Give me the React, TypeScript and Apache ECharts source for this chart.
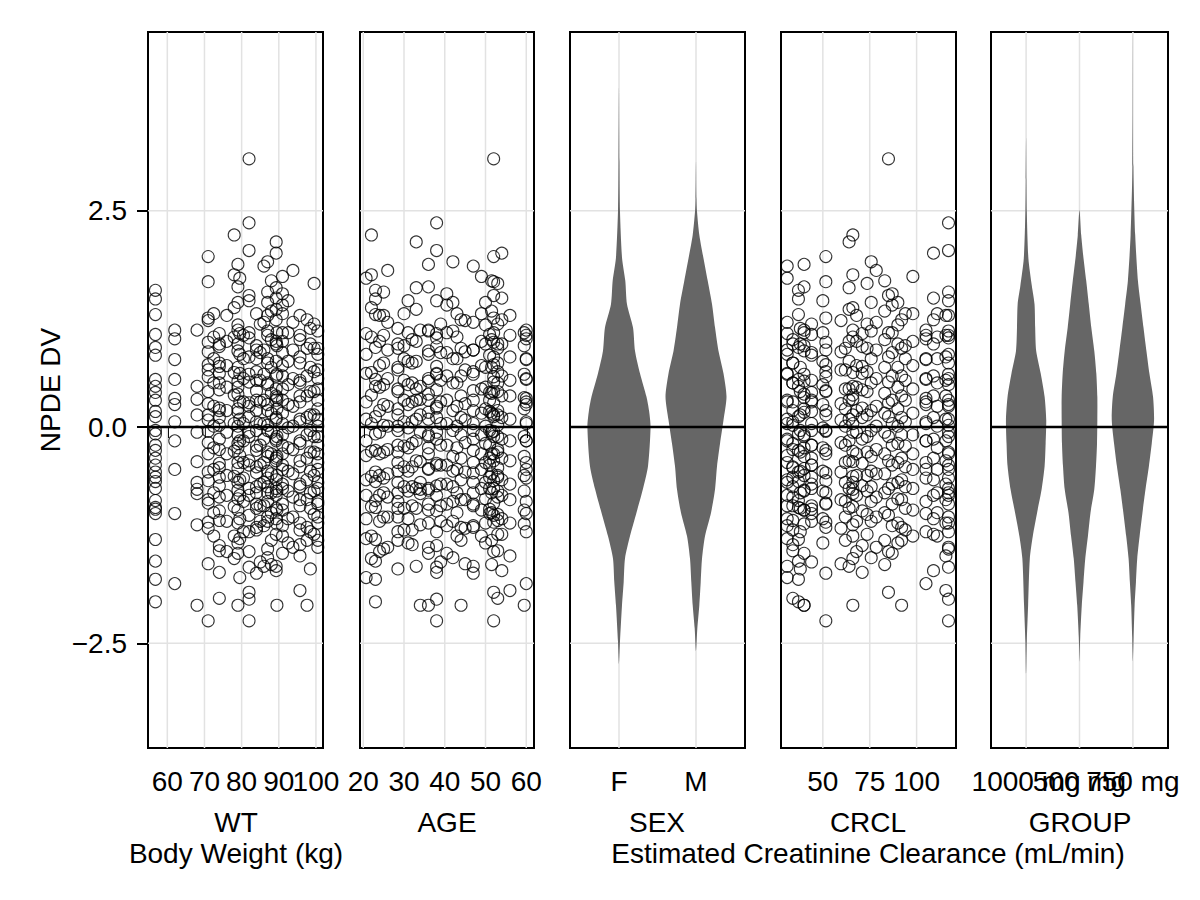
import React, { useEffect, useRef } from "react";
import * as echarts from "echarts";

// ---------- data ----------
const yTicks = [-2.5, 0, 2.5];
const wtTicks = [60, 70, 80, 90, 100];
const ageTicks = [20, 30, 40, 50, 60];
const crclTicks = [50, 75, 100];
const sexCats = ["F", "M"];
const groupCats = ["1000 mg", "500 mg", "750 mg"];

const subjWT = [56.8, 56.8, 62, 68, 71, 71, 74, 74, 78, 79, 79, 79.5, 82, 82, 84, 84, 87, 87, 89.3, 89.3, 89.5, 91, 91, 93.8, 95.7, 95.7, 97.6, 99.5, 100.5, 100.5, 85, 88, 80.5, 76, 92.5, 98.5, 72.5, 86];
const subjAGE = [23, 51, 60, 34, 52, 45, 38, 53, 22, 36, 50, 20.7, 52, 38, 30, 47, 25, 42, 33, 54, 59.5, 40.5, 49, 26, 56, 32, 44, 53, 36, 28.5, 39, 51.5, 60, 24, 31, 28.5, 43, 47];
const subjCRCL = [37, 44, 105, 66, 51.6, 59.7, 71, 34, 66, 40, 90, 31, 85, 117, 94, 51.6, 117, 75.8, 64, 109, 40, 87, 98, 78.5, 115.6, 34, 92, 73.6, 117, 62, 44, 83, 105, 68, 50, 38, 111, 31];
const subjNPDE = [
  [1.58, 1.48, 1.3, 0.92, 0.55, 0.47, 0.12, -0.08, -0.27, -0.52, -0.63, -0.85, -0.93, -1.3, -1.55, -1.76, -2.02],
  [1.07, 0.83, 0.4, 0.31, 0.18, -0.04, -0.21, -0.36, -0.44, -0.58, -0.71, -0.95, -1.0],
  [1.12, 1.02, 0.78, 0.55, 0.33, 0.26, 0.06, -0.16, -0.49, -1.0, -1.81],
  [1.12, 0.47, 0.32, 0.14, -0.06, -0.4, -0.64, -0.72, -0.77, -1.13, -2.06],
  [1.97, 1.68, 1.26, 0.98, 0.72, 0.58, 0.41, 0.14, -0.05, -0.31, -0.62, -0.88, -1.1, -2.24],
  [1.23, 0.87, 0.66, 0.27, 0.08, -0.18, -0.52, -0.84, -1.17, -1.58],
  [1.08, 0.93, 0.7, 0.62, 0.43, 0.22, 0.11, -0.14, -0.42, -0.68, -0.97, -1.37, -1.68],
  [0.96, 0.74, 0.51, 0.19, 0.02, -0.26, -0.47, -0.58, -0.81, -1.08, -1.43, -1.98],
  [2.22, 1.76, 1.38, 1.04, 0.63, 0.37, 0.04, -0.28, -0.57, -0.92, -1.26, -1.52],
  [1.88, 1.62, 1.12, 0.88, 0.53, 0.38, 0.17, -0.09, -0.24, -0.48, -0.73, -0.96, -1.46, -2.06],
  [1.44, 1.18, 0.96, 0.69, 0.46, 0.21, 0.01, -0.19, -0.41, -0.64, -0.83, -1.11, -1.34],
  [1.72, 1.08, 0.84, 0.62, 0.29, 0.09, -0.16, -0.33, -0.61, -0.79, -1.06, -1.29, -1.74],
  [3.1, 1.52, 1.09, 0.81, 0.52, 0.28, 0.12, -0.11, -0.39, -0.71, -1.02, -1.44, -1.91],
  [2.36, 2.04, 1.46, 1.03, 0.61, 0.24, -0.06, -0.44, -0.79, -1.21, -1.62, -1.99, -2.24],
  [1.31, 0.94, 0.79, 0.54, 0.31, 0.06, -0.22, -0.46, -0.69, -0.94, -1.19],
  [0.89, 0.64, 0.42, 0.19, -0.04, -0.27, -0.53, -0.76, -0.89, -1.16, -1.69],
  [1.56, 1.29, 1.06, 0.74, 0.49, 0.26, 0.02, -0.29, -0.59, -0.76, -1.04, -1.41],
  [1.91, 1.44, 1.11, 0.79, 0.51, 0.19, -0.04, -0.34, -0.51, -0.69, -0.86, -1.09, -1.51],
  [2.14, 1.61, 1.36, 0.99, 0.76, 0.44, 0.31, 0.09, -0.16, -0.39, -0.71, -0.94, -1.61],
  [2.01, 1.49, 1.24, 0.96, 0.59, 0.36, 0.11, -0.14, -0.36, -0.61, -0.79, -1.06, -1.24, -1.66],
  [1.09, 0.94, 0.61, 0.34, 0.21, -0.11, -0.34, -0.56, -0.74, -0.96, -1.12, -2.06],
  [1.54, 1.41, 1.09, 0.86, 0.59, 0.31, 0.04, -0.21, -0.44, -0.66, -0.89, -1.14, -1.46],
  [1.74, 1.31, 0.99, 0.71, 0.44, 0.16, -0.09, -0.31, -0.49, -0.71, -0.96, -1.26],
  [1.81, 1.21, 0.89, 0.56, 0.24, 0.01, -0.26, -0.54, -0.81, -1.04, -1.39],
  [1.29, 1.06, 0.81, 0.54, 0.36, 0.09, -0.16, -0.39, -0.66, -0.84, -1.11, -1.49, -1.89],
  [1.01, 0.74, 0.51, 0.29, 0.06, -0.19, -0.46, -0.69, -0.91, -1.19, -1.36],
  [1.24, 0.91, 0.59, 0.36, 0.11, -0.09, -0.36, -0.61, -0.84, -1.16, -1.31, -2.06],
  [1.66, 1.19, 0.91, 0.64, 0.41, 0.14, -0.11, -0.29, -0.56, -0.74, -1.01, -1.24],
  [1.11, 0.84, 0.56, 0.31, 0.09, -0.11, -0.31, -0.49, -0.71, -0.89, -1.11, -1.39],
  [0.91, 0.66, 0.44, 0.21, 0.01, -0.21, -0.41, -0.64, -0.86, -1.04, -1.31],
  [1.19, 0.86, 0.54, 0.29, 0.04, -0.21, -0.44, -0.66, -0.91, -1.09, -1.56],
  [1.69, 1.34, 1.01, 0.69, 0.39, 0.16, -0.06, -0.31, -0.54, -0.76, -0.99, -1.31, -1.59],
  [1.06, 0.79, 0.56, 0.29, 0.04, -0.16, -0.41, -0.59, -0.86, -1.21],
  [1.29, 0.99, 0.71, 0.46, 0.19, -0.06, -0.31, -0.56, -0.79, -1.09, -1.44],
  [1.46, 1.09, 0.76, 0.49, 0.26, -0.01, -0.24, -0.51, -0.74, -1.06, -1.34],
  [1.14, 0.96, 0.69, 0.41, 0.14, -0.04, -0.29, -0.51, -0.76, -0.94, -1.21, -1.64],
  [1.31, 1.04, 0.79, 0.51, 0.24, 0.01, -0.24, -0.49, -0.76, -0.99, -1.26],
  [1.86, 1.21, 0.89, 0.61, 0.31, 0.04, -0.14, -0.41, -0.64, -0.91, -1.14, -1.61],
];

// violin outlines: NPDE level and half-width (category units)
const violinF_y = [3.93, 3.07, 2.49, 1.95, 1.69, 1.42, 1.15, 0.88, 0.62, 0.35, 0.19, 0.0, -0.45, -0.72, -0.99, -1.26, -1.52, -1.79, -2.06, -2.48, -2.74];
const violinF_w = [0, 0.006, 0.013, 0.04, 0.082, 0.104, 0.182, 0.208, 0.273, 0.357, 0.39, 0.41, 0.377, 0.31, 0.227, 0.143, 0.078, 0.061, 0.039, 0.013, 0];
const violinM_y = [3.07, 2.64, 2.49, 2.22, 1.95, 1.69, 1.42, 1.15, 0.88, 0.62, 0.35, 0.08, -0.19, -0.45, -0.72, -0.99, -1.26, -1.52, -1.79, -2.06, -2.33, -2.59];
const violinM_w = [0, 0.006, 0.013, 0.043, 0.097, 0.152, 0.208, 0.247, 0.292, 0.357, 0.396, 0.357, 0.312, 0.273, 0.247, 0.195, 0.117, 0.078, 0.061, 0.043, 0.017, 0];
const violin1000_y = [3.35, 2.86, 2.49, 1.95, 1.63, 1.42, 1.15, 0.88, 0.62, 0.35, 0.08, -0.19, -0.45, -0.72, -0.99, -1.26, -1.52, -2.06, -2.48, -2.85];
const violin1000_w = [0, 0.006, 0.013, 0.043, 0.108, 0.158, 0.17, 0.189, 0.274, 0.347, 0.377, 0.366, 0.347, 0.291, 0.206, 0.126, 0.07, 0.038, 0.013, 0];
const violin500_y = [2.51, 2.22, 1.95, 1.69, 1.42, 1.15, 0.88, 0.62, 0.35, 0.08, -0.19, -0.45, -0.72, -0.99, -1.26, -1.52, -1.79, -2.06, -2.43, -2.71];
const violin500_w = [0, 0.032, 0.075, 0.126, 0.174, 0.221, 0.277, 0.315, 0.334, 0.334, 0.328, 0.309, 0.277, 0.206, 0.158, 0.108, 0.075, 0.043, 0.013, 0];
const violin750_y = [4.55, 3.01, 2.22, 1.69, 1.42, 1.15, 0.88, 0.62, 0.35, 0.08, -0.19, -0.45, -0.72, -0.99, -1.26, -1.52, -1.79, -2.06, -2.43, -2.71];
const violin750_w = [0, 0.009, 0.043, 0.094, 0.145, 0.198, 0.253, 0.309, 0.377, 0.396, 0.353, 0.3, 0.236, 0.179, 0.126, 0.081, 0.057, 0.032, 0.013, 0];

// ---------- layout / style ----------
const FONT = "'Liberation Sans', Arial, Helvetica, sans-serif";
const FS = 28;
const Y_MIN = -3.71;
const Y_MAX = 4.566;
const TOP = 32;
const HEIGHT = 716;
const GRID_COLOR = "#e2e2e2";
const VIOLIN_COLOR = "#666666";

const panels = [
  { left: 148, width: 175, min: 54.8, max: 101.9, ticks: wtTicks, fmt: (v: number) => String(v) },
  { left: 360, width: 174, min: 19.2, max: 61.9, ticks: ageTicks, fmt: (v: number) => String(v) },
  { left: 570, width: 175, min: 0.364, max: 2.636, ticks: [1, 2], fmt: (v: number) => sexCats[Math.round(v) - 1] },
  { left: 781, width: 175, min: 27.7, max: 121, ticks: crclTicks, fmt: (v: number) => String(v) },
  { left: 991, width: 177, min: 0.343, max: 3.657, ticks: [1, 2, 3], fmt: (v: number) => groupCats[Math.round(v) - 1] },
];

const fmtY = (v: number) => (v < 0 ? "\u2212" + Math.abs(v).toFixed(1) : v.toFixed(1));

function lineSeries(gi: number, data: number[][], color: string, width: number, z: number) {
  return {
    type: "line",
    xAxisIndex: gi,
    yAxisIndex: gi,
    data,
    symbol: "none",
    silent: true,
    z,
    lineStyle: { color, width },
  };
}

function violinSeries(gi: number, profiles: { y: number[]; w: number[] }[]) {
  return {
    type: "custom",
    xAxisIndex: gi,
    yAxisIndex: gi,
    silent: true,
    clip: true,
    z: 3,
    data: profiles.map((_, k) => [k + 1, 0]),
    encode: { x: 0, y: 1 },
    renderItem: (params: any, api: any) => {
      const p = profiles[params.dataIndex];
      const cx = api.value(0);
      const pts: number[][] = [];
      for (let j = 0; j < p.y.length; j++) pts.push(api.coord([cx + p.w[j], p.y[j]]));
      for (let j = p.y.length - 2; j >= 1; j--) pts.push(api.coord([cx - p.w[j], p.y[j]]));
      return {
        type: "polygon",
        shape: { points: pts, smooth: 0.25 },
        style: { fill: VIOLIN_COLOR },
      };
    },
  };
}

function buildOption() {
  const series: any[] = [];

  panels.forEach((p, gi) => {
    // grid lines
    p.ticks.forEach((t) => series.push(lineSeries(gi, [[t, Y_MIN], [t, Y_MAX]], GRID_COLOR, 1.5, 1)));
    [-2.5, 2.5].forEach((y) => series.push(lineSeries(gi, [[p.min, y], [p.max, y]], GRID_COLOR, 1.5, 1)));
  });

  const covs = [subjWT, subjAGE, null, subjCRCL, null];
  covs.forEach((cov, gi) => {
    if (!cov) return;
    const pts: number[][] = [];
    subjNPDE.forEach((vals, s) => vals.forEach((v) => pts.push([cov[s], v])));
    series.push({
      type: "scatter",
      xAxisIndex: gi,
      yAxisIndex: gi,
      data: pts,
      symbol: "circle",
      symbolSize: 12,
      silent: true,
      z: 3,
      itemStyle: { color: "rgba(0,0,0,0)", borderColor: "#000", borderWidth: 1.1 },
    });
  });

  series.push(
    violinSeries(2, [
      { y: violinF_y, w: violinF_w },
      { y: violinM_y, w: violinM_w },
    ])
  );
  series.push(
    violinSeries(4, [
      { y: violin1000_y, w: violin1000_w },
      { y: violin500_y, w: violin500_w },
      { y: violin750_y, w: violin750_w },
    ])
  );

  panels.forEach((p, gi) => {
    series.push(lineSeries(gi, [[p.min, 0], [p.max, 0]], "#000", 2.5, 6));
  });

  const textStyle = (text: string, x: number, y: number, extra: any = {}) => ({
    type: "text",
    x,
    y,
    silent: true,
    style: {
      text,
      fontSize: FS,
      fontFamily: FONT,
      fill: "#000",
      align: "center",
      verticalAlign: "middle",
      textAlign: "center",
      textVerticalAlign: "middle",
    },
    ...extra,
  });

  const xAxisBase = (p: any, gi: number, labelVals: number[], showTicks: boolean) => ({
    type: "value",
    gridIndex: gi,
    position: "bottom",
    offset: 0,
    min: p.min,
    max: p.max,
    axisLine: { show: false },
    splitLine: { show: false },
    axisTick: { show: showTicks, customValues: p.ticks, length: 11, lineStyle: { color: "#000", width: 2 } },
    axisLabel: {
      show: labelVals.length > 0,
      customValues: labelVals,
      formatter: p.fmt,
      margin: 19,
      fontSize: FS,
      fontFamily: FONT,
      color: "#000",
      hideOverlap: false,
      showMinLabel: true,
      showMaxLabel: true,
    },
  });

  // primary axes (carry the series, ticks and every other label)
  const xAxes: any[] = panels.map((p, gi) =>
    xAxisBase(p, gi, p.ticks.filter((_, k) => k % 2 === 0), true)
  );
  // secondary axes in the same grids carry the remaining labels, so neighbours are not dropped
  panels.forEach((p, gi) => {
    const rest = p.ticks.filter((_, k) => k % 2 === 1);
    if (rest.length) xAxes.push(xAxisBase(p, gi, rest, false));
  });

  return {
    animation: false,
    backgroundColor: "#ffffff",
    textStyle: { fontFamily: FONT },
    grid: panels.map((p) => ({
      left: p.left,
      width: p.width,
      top: TOP,
      height: HEIGHT,
      show: true,
      borderColor: "#000",
      borderWidth: 2,
      backgroundColor: "rgba(0,0,0,0)",
      containLabel: false,
      outerBoundsMode: "none",
    })),
    xAxis: xAxes,
    yAxis: panels.map((p, gi) => ({
      type: "value",
      gridIndex: gi,
      min: Y_MIN,
      max: Y_MAX,
      axisLine: { show: false },
      splitLine: { show: false },
      axisTick: { show: gi === 0, customValues: yTicks, length: 11, lineStyle: { color: "#000", width: 2 } },
      axisLabel: {
        show: gi === 0,
        customValues: yTicks,
        formatter: fmtY,
        margin: 21,
        fontSize: FS,
        fontFamily: FONT,
        color: "#000",
        showMinLabel: true,
        showMaxLabel: true,
      },
    })),
    graphic: [
      textStyle("WT", 236, 822),
      textStyle("AGE", 447, 822),
      textStyle("SEX", 657, 822),
      textStyle("CRCL", 868, 822),
      textStyle("GROUP", 1080, 822),
      textStyle("Body Weight (kg)", 236, 853),
      textStyle("Estimated Creatinine Clearance (mL/min)", 868, 853),
      textStyle("NPDE DV", 50, 390, { rotation: Math.PI / 2 }),
    ],
    series,
  };
}

export default function App() {
  const ref = useRef<HTMLDivElement>(null);
  useEffect(() => {
    if (!ref.current) return;
    const chart = echarts.init(ref.current, null, { renderer: "svg" });
    chart.setOption(buildOption() as any);
    return () => chart.dispose();
  }, []);
  return (
    <div
      ref={ref}
      style={{ position: "absolute", left: 0, top: 0, width: 1200, height: 900, background: "#fff" }}
    />
  );
}
